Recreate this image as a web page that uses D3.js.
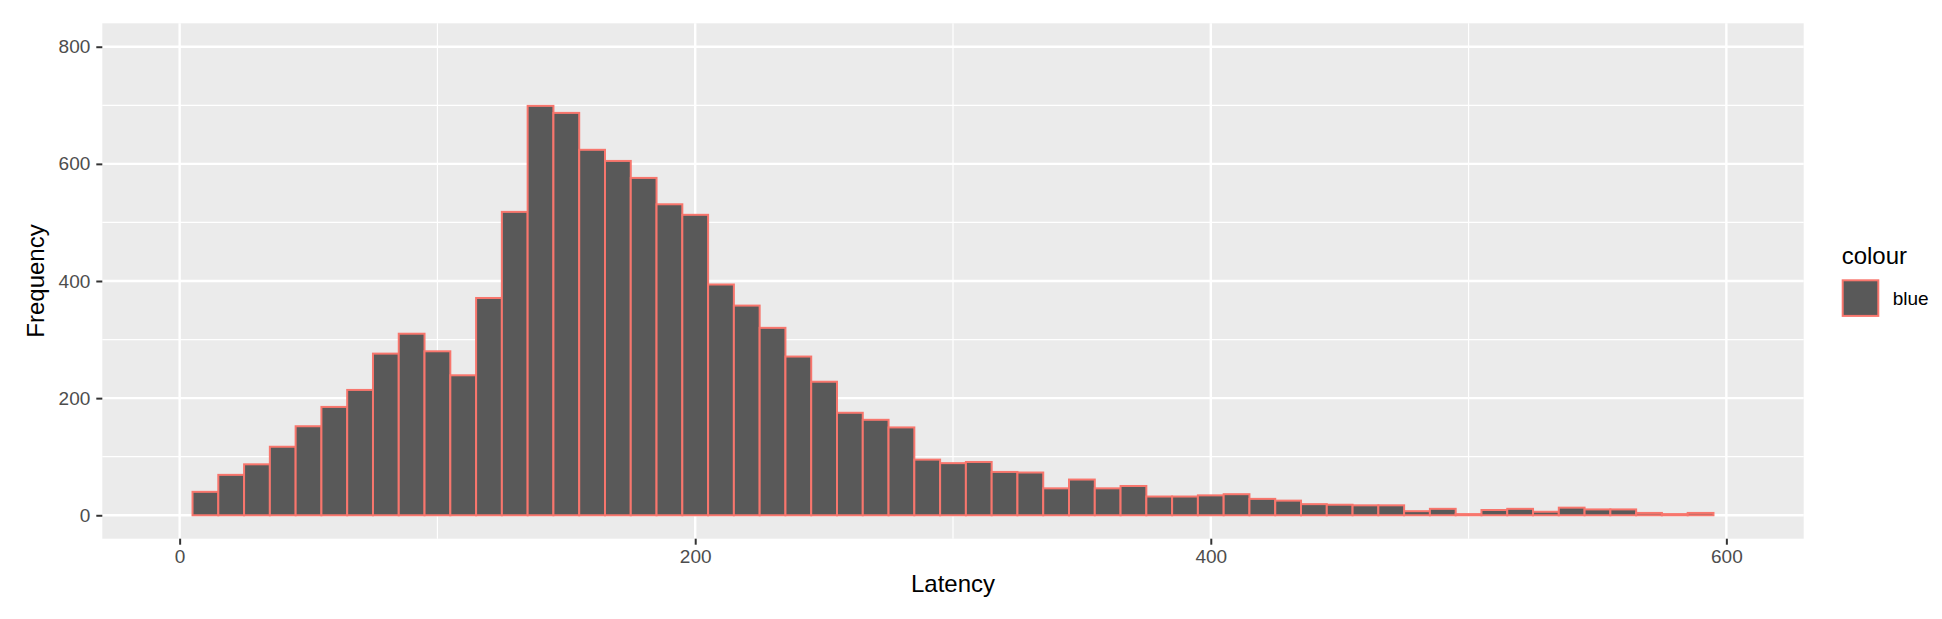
<!DOCTYPE html>
<html>
<head>
<meta charset="utf-8">
<script src="https://cdn.jsdelivr.net/npm/d3@7"></script>
<style>
  html, body { margin: 0; padding: 0; background: #ffffff; }
  svg { display: block; }
  text { font-family: "Liberation Sans", Arial, Helvetica, sans-serif; }
</style>
</head>
<body>
<svg id="chart" width="1942" height="619"></svg>
<script>
// ---- Data ----
const binStarts = [5, 15, 25, 35, 45, 55, 65, 75, 85, 95,
  105, 115, 125, 135, 145, 155, 165, 175, 185, 195,
  205, 215, 225, 235, 245, 255, 265, 275, 285, 295,
  305, 315, 325, 335, 345, 355, 365, 375, 385, 395,
  405, 415, 425, 435, 445, 455, 465, 475, 485, 495,
  505, 515, 525, 535, 545, 555, 565, 575, 585];
const binWidth = 10;
const counts = [40, 69, 87, 117, 152, 185, 214, 276, 310, 280,
  239, 371, 518, 699, 687, 624, 605, 576, 531, 513,
  394, 358, 320, 271, 228, 175, 163, 150, 95, 89,
  91, 74, 73, 46, 61, 46, 50, 32, 32, 34,
  36, 28, 25, 19, 18, 17, 17, 7, 11, 2,
  9, 11, 6, 13, 10, 10, 4, 2, 4];
const xTicks = [0, 200, 400, 600];
const xMinor = [100, 300, 500];
const yTicks = [0, 200, 400, 600, 800];
const yMinor = [100, 300, 500, 700];
const xTitle = "Latency";
const yTitle = "Frequency";
const legendTitle = "colour";
const legendLabels = ["blue"];

// ---- Layout ----
const panel = { left: 102.3, right: 1803.7, top: 23.3, bottom: 538.7 };
const fillColor = "#595959";
const strokeColor = "#F8766D";

const svg = d3.select("#chart");
svg.append("rect").attr("width", 1942).attr("height", 619).attr("fill", "#ffffff");

const x = d3.scaleLinear().domain([-30, 630]).range([panel.left, panel.right]);
const y = d3.scaleLinear().domain([-40, 840]).range([panel.bottom, panel.top]);

// panel background
svg.append("rect")
  .attr("x", panel.left).attr("y", panel.top)
  .attr("width", panel.right - panel.left).attr("height", panel.bottom - panel.top)
  .attr("fill", "#EBEBEB");

const grid = svg.append("g");
// minor grid
grid.selectAll("line.ymin").data(yMinor).join("line")
  .attr("x1", panel.left).attr("x2", panel.right)
  .attr("y1", d => y(d)).attr("y2", d => y(d))
  .attr("stroke", "#ffffff").attr("stroke-width", 1.2);
grid.selectAll("line.xmin").data(xMinor).join("line")
  .attr("y1", panel.top).attr("y2", panel.bottom)
  .attr("x1", d => x(d)).attr("x2", d => x(d))
  .attr("stroke", "#ffffff").attr("stroke-width", 1.2);
// major grid
grid.selectAll("line.ymaj").data(yTicks).join("line")
  .attr("x1", panel.left).attr("x2", panel.right)
  .attr("y1", d => y(d)).attr("y2", d => y(d))
  .attr("stroke", "#ffffff").attr("stroke-width", 2.4);
grid.selectAll("line.xmaj").data(xTicks).join("line")
  .attr("y1", panel.top).attr("y2", panel.bottom)
  .attr("x1", d => x(d)).attr("x2", d => x(d))
  .attr("stroke", "#ffffff").attr("stroke-width", 2.4);

// bars
const bins = binStarts.map((s, i) => ({ x0: s, x1: s + binWidth, n: counts[i] }));
svg.append("g").selectAll("rect").data(bins).join("rect")
  .attr("x", d => x(d.x0))
  .attr("width", d => x(d.x1) - x(d.x0))
  .attr("y", d => y(d.n))
  .attr("height", d => y(0) - y(d.n))
  .attr("fill", fillColor)
  .attr("stroke", strokeColor)
  .attr("stroke-width", 2);

// axes
const xAxis = d3.axisBottom(x).tickValues(xTicks).tickSize(6).tickSizeOuter(0).tickPadding(5);
const yAxis = d3.axisLeft(y).tickValues(yTicks).tickSize(6).tickSizeOuter(0).tickPadding(6);

const gx = svg.append("g").attr("transform", `translate(0,${panel.bottom})`).call(xAxis);
const gy = svg.append("g").attr("transform", `translate(${panel.left},0)`).call(yAxis);
[gx, gy].forEach(g => {
  g.select(".domain").remove();
  g.selectAll(".tick line").attr("stroke", "#333333").attr("stroke-width", 2);
  g.selectAll(".tick text").attr("fill", "#4D4D4D").style("font-size", "19px")
    .style("font-family", "'Liberation Sans', Arial, sans-serif");
});

// axis titles
svg.append("text")
  .attr("x", (panel.left + panel.right) / 2).attr("y", 592)
  .attr("text-anchor", "middle").attr("fill", "#000000")
  .style("font-size", "24px").text(xTitle);
svg.append("text")
  .attr("transform", `translate(44,${(panel.top + panel.bottom) / 2}) rotate(-90)`)
  .attr("text-anchor", "middle").attr("fill", "#000000")
  .style("font-size", "24px").text(yTitle);

// legend
const lg = svg.append("g");
lg.append("text").attr("x", 1841.7).attr("y", 264)
  .attr("fill", "#000000").style("font-size", "24px").text(legendTitle);
legendLabels.forEach((lab, i) => {
  const ky = 279.3 + i * 37.6;
  lg.append("rect").attr("x", 1841.7).attr("y", ky).attr("width", 37.6).attr("height", 37.6)
    .attr("fill", "#ffffff");
  lg.append("rect").attr("x", 1842.7).attr("y", ky + 1).attr("width", 35.6).attr("height", 35.6)
    .attr("fill", fillColor).attr("stroke", strokeColor).attr("stroke-width", 2);
  lg.append("text").attr("x", 1892.7).attr("y", ky + 18.8 + 6.6)
    .attr("fill", "#000000").style("font-size", "19px").text(lab);
});
</script>
</body>
</html>
